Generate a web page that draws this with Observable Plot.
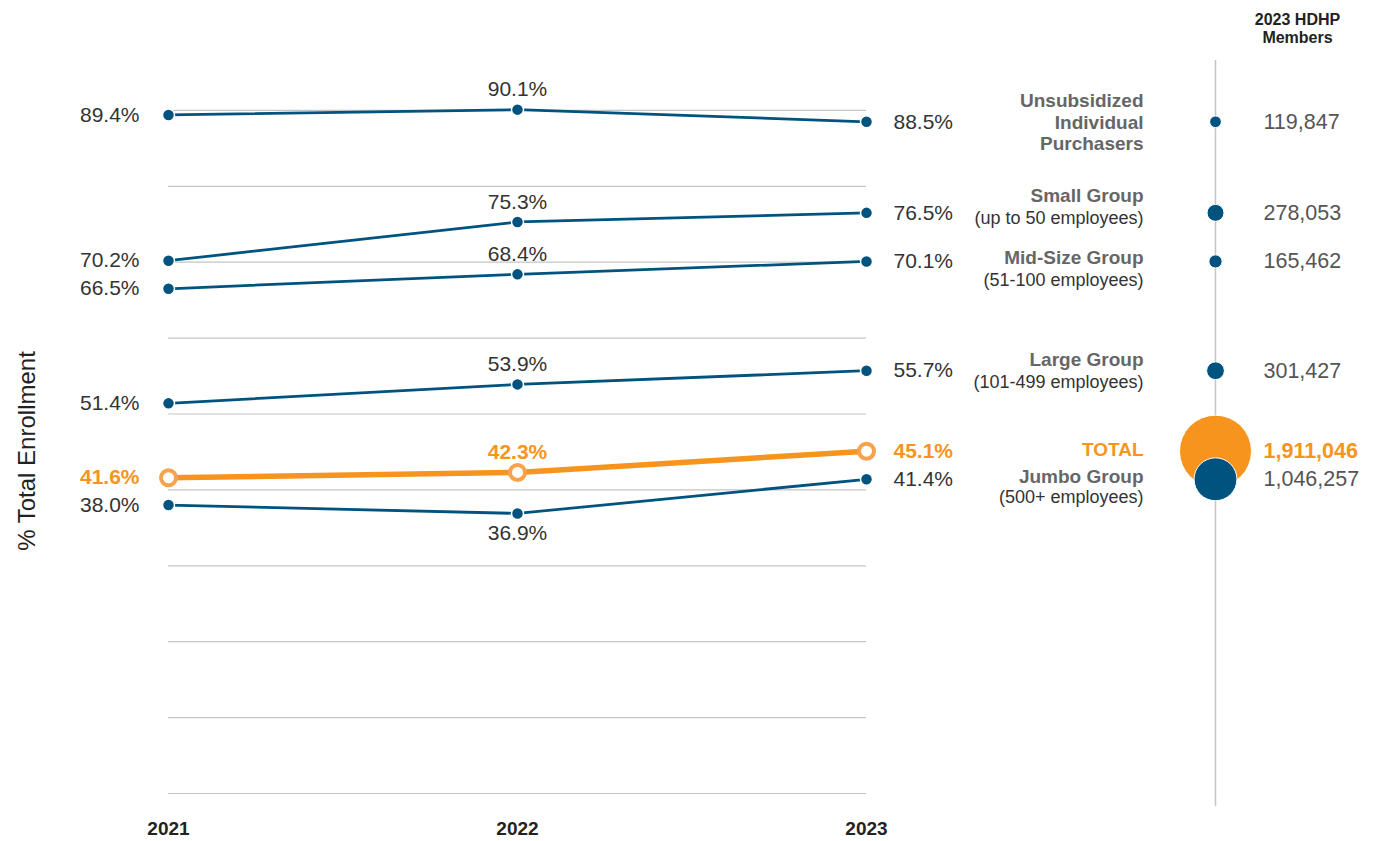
<!DOCTYPE html>
<html>
<head>
<meta charset="utf-8">
<script src="https://cdn.jsdelivr.net/npm/d3@7"></script>
<script src="https://cdn.jsdelivr.net/npm/@observablehq/plot@0.6"></script>
<style>
  html, body { margin: 0; padding: 0; background: #fff; }
  #chart { width: 1387px; height: 841px; }
</style>
</head>
<body>
<div id="chart"></div>
<script>
// ---------- data ----------
const years = ["2021", "2022", "2023"];
const categories = [
  "Unsubsidized\nIndividual\nPurchasers",
  "Small Group",
  "Mid-Size Group",
  "Large Group",
  "TOTAL",
  "Jumbo Group"
];
const subtitles = ["", "(up to 50 employees)", "(51-100 employees)", "(101-499 employees)", "", "(500+ employees)"];
const pct2021 = [89.4, 70.2, 66.5, 51.4, 41.6, 38.0];
const pct2022 = [90.1, 75.3, 68.4, 53.9, 42.3, 36.9];
const pct2023 = [88.5, 76.5, 70.1, 55.7, 45.1, 41.4];
const members2023 = [119847, 278053, 165462, 301427, 1911046, 1046257];
const gridTicks = [0, 10, 20, 30, 40, 50, 60, 70, 80, 90];
const membersHeader = "2023 HDHP\nMembers";
const yLabel = "% Total Enrollment";
const bubbleColumn = "HDHP";

// ---------- styles / layout ----------
const BLUE = "#00527f";
const ORANGE = "#f7941e";
const ORANGE_RING = "#f8a24c";
const TEXT = "#333333";
const GRAY = "#666666";
const titleDy = [0, -18, -4, -12, -2, -3];
const subDy = [0, 5, 19, 11, 0, 18];

// ---------- derived tables ----------
const byYear = [pct2021, pct2022, pct2023];
const rows = categories.flatMap((name, i) =>
  years.map((year, j) => ({name, year, value: byYear[j][i], total: name === "TOTAL", below: name === "Jumbo Group"}))
);
const bubbles = categories.map((name, i) => ({
  name, sub: subtitles[i], value: pct2023[i], members: members2023[i], total: name === "TOTAL", i
})).sort((a, b) => b.members - a.members);

const fmtPct = d => d.value.toFixed(1) + "%";
const fmtNum = d3.format(",");
const isT = d => d.total;
const notT = d => !d.total;
const colX = () => bubbleColumn;

function valueLabels(filter, opts) {
  return [
    Plot.text(rows.filter(d => filter(d) && !d.total), {x: "year", y: "value", text: fmtPct, fill: TEXT, fontSize: 21, ...opts}),
    Plot.text(rows.filter(d => filter(d) && d.total), {x: "year", y: "value", text: fmtPct, fill: ORANGE, fontSize: 21, fontWeight: "bold", ...opts})
  ];
}

const titleMarks = bubbles.flatMap(b => {
  const marks = [];
  marks.push(Plot.text([b], {
    x: colX, y: "value", text: d => d.name,
    textAnchor: "end", dx: -72, dy: titleDy[b.i],
    fontWeight: "bold", fontSize: 19, lineHeight: 1.13,
    fill: b.total ? ORANGE : GRAY
  }));
  if (b.sub) {
    marks.push(Plot.text([b], {
      x: colX, y: "value", text: d => d.sub,
      textAnchor: "end", dx: -72, dy: subDy[b.i],
      fontSize: 18, fill: TEXT
    }));
  }
  return marks;
});

const chart = Plot.plot({
  width: 1387,
  height: 841,
  marginLeft: 167,
  marginRight: 172,
  marginTop: 34,
  marginBottom: 48,
  style: {fontFamily: "'Liberation Sans', Arial, Helvetica, sans-serif", fontSize: "21px", background: "#fff"},
  x: {type: "point", domain: [...years, bubbleColumn], padding: 0},
  y: {domain: [0, 100], axis: null},
  r: {type: "linear", domain: [100000, 1911046], range: [5.5, 36]},
  marks: [
    Plot.ruleY(gridTicks, {x1: () => years[0], x2: () => years[years.length - 1], stroke: "#c4c4c4", strokeWidth: 1.2}),
    Plot.ruleX([bubbleColumn], {stroke: "#c4c4c4", strokeWidth: 1.5, insetTop: 26, insetBottom: -13}),
    Plot.axisX(years, {tickSize: 0, tickPadding: 28, fontSize: 19, fontWeight: "bold", fill: "#222", label: null}),
    Plot.line(rows.filter(notT), {x: "year", y: "value", z: "name", stroke: BLUE, strokeWidth: 2.75}),
    Plot.line(rows.filter(isT), {x: "year", y: "value", z: "name", stroke: ORANGE, strokeWidth: 5.5}),
    Plot.dot(rows.filter(notT), {x: "year", y: "value", r: 6, fill: BLUE, stroke: "#fff", strokeWidth: 1.5}),
    Plot.dot(rows.filter(isT), {x: "year", y: "value", r: 7.5, fill: "#fff", stroke: ORANGE_RING, strokeWidth: 4}),
    ...valueLabels(d => d.year === "2021", {textAnchor: "end", dx: -29}),
    ...valueLabels(d => d.year === "2022" && !d.below, {textAnchor: "middle", dy: -20}),
    ...valueLabels(d => d.year === "2022" && d.below, {textAnchor: "middle", dy: 20}),
    ...valueLabels(d => d.year === "2023", {textAnchor: "start", dx: 27}),
    // bubbles
    Plot.dot(bubbles.filter(isT), {x: colX, y: "value", r: "members", fill: ORANGE, stroke: "#fff", strokeWidth: 1}),
    Plot.dot(bubbles.filter(notT), {x: colX, y: "value", r: "members", fill: BLUE, stroke: "#fff", strokeWidth: 1}),
    Plot.text(bubbles.filter(notT), {x: colX, y: "value", text: d => fmtNum(d.members), textAnchor: "start", dx: 48, fontSize: 21.5, fill: "#555"}),
    Plot.text(bubbles.filter(isT), {x: colX, y: "value", text: d => fmtNum(d.members), textAnchor: "start", dx: 48, fontSize: 21.5, fontWeight: "bold", fill: ORANGE}),
    ...titleMarks,
    Plot.text([membersHeader], {x: colX, frameAnchor: "top", text: d => d, lineAnchor: "top", dx: 82, dy: -22, fontSize: 16, fontWeight: "bold", fill: "#222", lineHeight: 1.1}),
    Plot.text([yLabel], {frameAnchor: "left", text: d => d, textAnchor: "middle", rotate: -90, dx: -140, dy: 37, fontSize: 24, fill: "#222"})
  ]
});
document.getElementById("chart").appendChild(chart);
</script>
</body>
</html>
